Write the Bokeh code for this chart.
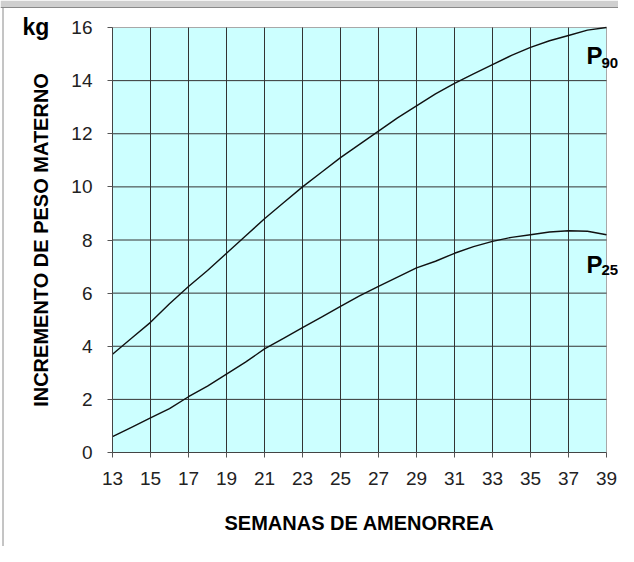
from bokeh.plotting import figure
from bokeh.models import Range1d, FixedTicker, Label, LinearAxis
from bokeh.embed import file_html
from bokeh.resources import INLINE

# Data (weeks of amenorrhea vs maternal weight gain, kg)
weeks = [13, 14, 15, 16, 17, 18, 19, 20, 21, 22, 23, 24, 25, 26, 27, 28, 29, 30,
         31, 32, 33, 34, 35, 36, 37, 38, 39]
p90 = [3.7, 4.3, 4.9, 5.6, 6.25, 6.85, 7.5, 8.15, 8.8, 9.4, 10.0, 10.55, 11.1, 11.6,
       12.1, 12.6, 13.05, 13.5, 13.9, 14.25, 14.6, 14.95, 15.25, 15.5, 15.7, 15.9, 16.0]
p25 = [0.6, 0.95, 1.3, 1.65, 2.1, 2.5, 2.95, 3.4, 3.9, 4.3, 4.7, 5.1, 5.5, 5.9,
       6.25, 6.6, 6.95, 7.2, 7.5, 7.75, 7.95, 8.1, 8.2, 8.3, 8.35, 8.33, 8.2]
x_ticks = [13, 15, 17, 19, 21, 23, 25, 27, 29, 31, 33, 35, 37, 39]
y_ticks = [0, 2, 4, 6, 8, 10, 12, 14, 16]

FONT = "Liberation Sans"

W, H = 618, 546
# pixel box of the plotting area inside the canvas
L, R, T, B = 112, 606, 27, 452
x0, x1 = x_ticks[0], x_ticks[-1]
y0, y1 = y_ticks[0], y_ticks[-1]
sx = (R - L) / (x1 - x0)
sy = (B - T) / (y1 - y0)


def px_x(px):
    return x0 + (px - L) / sx


def px_y(py):
    return y1 + (T - py) / sy


p = figure(width=W, height=H, output_backend="svg", toolbar_location=None,
           x_axis_type=None, y_axis_type=None,
           x_range=Range1d(px_x(0), px_x(W)),
           y_range=Range1d(px_y(H), px_y(0)),
           min_border=0, min_border_left=0, min_border_right=0,
           min_border_top=0, min_border_bottom=0)
p.outline_line_color = None
p.background_fill_color = "white"
p.border_fill_color = "white"
p.xgrid.visible = False
p.ygrid.visible = False

# picture frame (window strip at top, thin border at left)
p.quad(left=[px_x(0)], right=[px_x(W)], bottom=[px_y(7)], top=[px_y(0)],
       fill_color="#cfcfcf", line_color=None)
p.segment(x0=[px_x(0)], y0=[px_y(7)], x1=[px_x(W)], y1=[px_y(7)],
          line_color="#8a8a8a", line_width=1)
p.segment(x0=[px_x(2.5)], y0=[px_y(7)], x1=[px_x(2.5)], y1=[px_y(H)],
          line_color="#8a8a8a", line_width=1)

# plotting area background + light border
p.quad(left=[x0], right=[x1], bottom=[y0], top=[y1],
       fill_color="#CCFFFF", line_color="#a8a8a8", line_width=1)

# grid lines
gx = x_ticks[1:-1]
gy = y_ticks[1:-1]
p.segment(x0=gx, y0=[y0] * len(gx), x1=gx, y1=[y1] * len(gx),
          line_color="#333333", line_width=1)
p.segment(x0=[x0] * len(gy), y0=gy, x1=[x1] * len(gy), y1=gy,
          line_color="#333333", line_width=1)

# axes at fixed data locations
xax = LinearAxis(fixed_location=y0, bounds=(x0, x1),
                 ticker=FixedTicker(ticks=x_ticks, minor_ticks=[]))
yax = LinearAxis(fixed_location=x0, bounds=(y0, y1),
                 ticker=FixedTicker(ticks=y_ticks, minor_ticks=[]))
for ax in (xax, yax):
    ax.major_tick_in = 0
    ax.major_tick_out = 5
    ax.major_tick_line_color = "#555555"
    ax.axis_line_color = "#444444"
    ax.major_label_text_font = FONT
    ax.major_label_text_font_size = "19px"
    ax.major_label_text_color = "#222222"
    ax.axis_label_text_font = FONT
    ax.axis_label_text_font_style = "bold"
    ax.axis_label_text_color = "black"
    ax.axis_label_text_font_size = "20px"
xax.major_label_standoff = 14
xax.axis_label = "SEMANAS DE AMENORREA"
xax.axis_label_standoff = 24
yax.major_label_standoff = 15
yax.axis_label = "INCREMENTO DE PESO MATERNO"
yax.axis_label_standoff = 16
p.add_layout(xax, "below")
p.add_layout(yax, "left")

# curves
p.line(weeks, p90, line_color="#111111", line_width=1.4)
p.line(weeks, p25, line_color="#111111", line_width=1.4)

lbl = dict(text_font=FONT, text_font_style="bold", text_color="black",
           text_baseline="alphabetic")
p.add_layout(Label(x=x0, y=y1, x_offset=-90, y_offset=1, text="kg",
                   text_font_size="23px", **lbl))
p.add_layout(Label(x=x1, y=p90[-1], x_offset=-20, y_offset=-28, text="P",
                   text_font_size="24px", **lbl))
p.add_layout(Label(x=x1, y=p90[-1], x_offset=-5, y_offset=-35, text="90",
                   text_font_size="15px", **lbl))
p.add_layout(Label(x=x1, y=8, x_offset=-20, y_offset=-24.5, text="P",
                   text_font_size="24px", **lbl))
p.add_layout(Label(x=x1, y=8, x_offset=-5, y_offset=-29.5, text="25",
                   text_font_size="15px", **lbl))

open("out.html", "w").write(file_html(p, INLINE))
